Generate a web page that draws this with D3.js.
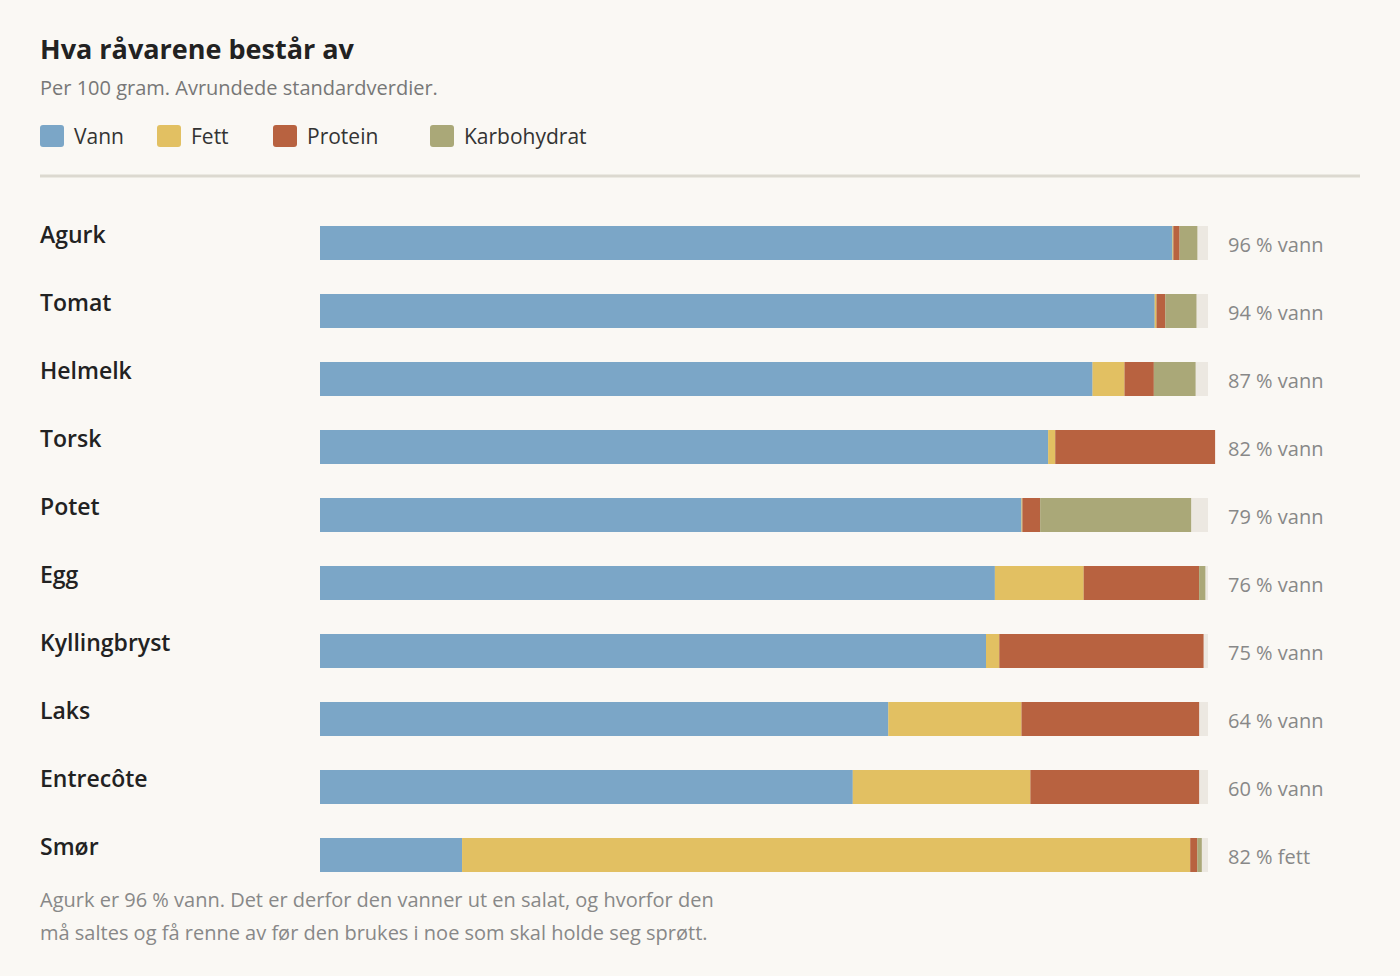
<!DOCTYPE html>
<html><head><meta charset="utf-8">
<script src="https://cdn.jsdelivr.net/npm/d3@7"></script>
<style>body{margin:0;background:#faf8f4;font-family:"Open Sans","Noto Sans",sans-serif;}</style>
</head><body><svg id="c" width="1400" height="976"></svg>
<script>
const categories=["Agurk","Tomat","Helmelk","Torsk","Potet","Egg","Kyllingbryst","Laks","Entrecôte","Smør"];
const vann=[96,94,87,82,79,76,75,64,60,16];
const fett=[0.1,0.2,3.6,0.8,0.1,10,1.5,15,20,82];
const protein=[0.7,1,3.3,18,2,13,23,20,19,0.8];
const karbo=[2,3.5,4.7,0,17,0.7,0,0,0,0.5];
const rightLabels=["96 % vann","94 % vann","87 % vann","82 % vann","79 % vann","76 % vann","75 % vann","64 % vann","60 % vann","82 % fett"];
const seriesNames=["Vann","Fett","Protein","Karbohydrat"];
const colors=["#7ba6c7","#e2c062","#b86240","#aaa878"];
const svg=d3.select("#c");
svg.append("text").attr("x",40).attr("y",59).attr("font-size",27).attr("font-weight",700).attr("fill","#222").text("Hva råvarene består av");
svg.append("text").attr("x",40).attr("y",95).attr("font-size",20).attr("fill","#777").text("Per 100 gram. Avrundede standardverdier.");
const lx=[40,157,273,430];
seriesNames.forEach((n,i)=>{
 svg.append("rect").attr("x",lx[i]).attr("y",125).attr("width",24).attr("height",22).attr("rx",3).attr("fill",colors[i]);
 svg.append("text").attr("x",lx[i]+34).attr("y",144).attr("font-size",21).attr("fill","#333").text(n);
});
svg.append("line").attr("x1",40).attr("x2",1360).attr("y1",176).attr("y2",176).attr("stroke","#dcd9d0").attr("stroke-width",3);
const x=d3.scaleLinear().domain([0,100]).range([320,1208]);
const y=d3.scaleBand().domain(categories).range([209,889]).paddingInner(0.5).paddingOuter(0.25);
const data=[vann,fett,protein,karbo];
categories.forEach((c,i)=>{
 const g=svg.append("g");
 g.append("rect").attr("x",x(0)).attr("y",y(c)).attr("width",x(100)-x(0)).attr("height",y.bandwidth()).attr("fill","#ece8e1");
 let acc=0;
 data.forEach((s,j)=>{
  const v=s[i]; if(v<=0)return;
  g.append("rect").attr("x",x(acc)).attr("y",y(c)).attr("width",x(acc+v)-x(acc)).attr("height",y.bandwidth()).attr("fill",colors[j]);
  acc+=v;
 });
 svg.append("text").attr("x",40).attr("y",y(c)+y.bandwidth()/2).attr("font-size",23).attr("font-weight",600).attr("fill","#222").text(c);
 svg.append("text").attr("x",1228).attr("y",y(c)+y.bandwidth()/2+9).attr("font-size",20).attr("fill","#888").text(rightLabels[i]);
});
svg.append("text").attr("x",40).attr("y",907).attr("font-size",20).attr("fill","#888").text("Agurk er 96 % vann. Det er derfor den vanner ut en salat, og hvorfor den");
svg.append("text").attr("x",40).attr("y",940).attr("font-size",20).attr("fill","#888").text("må saltes og få renne av før den brukes i noe som skal holde seg sprøtt.");
</script></body></html>
